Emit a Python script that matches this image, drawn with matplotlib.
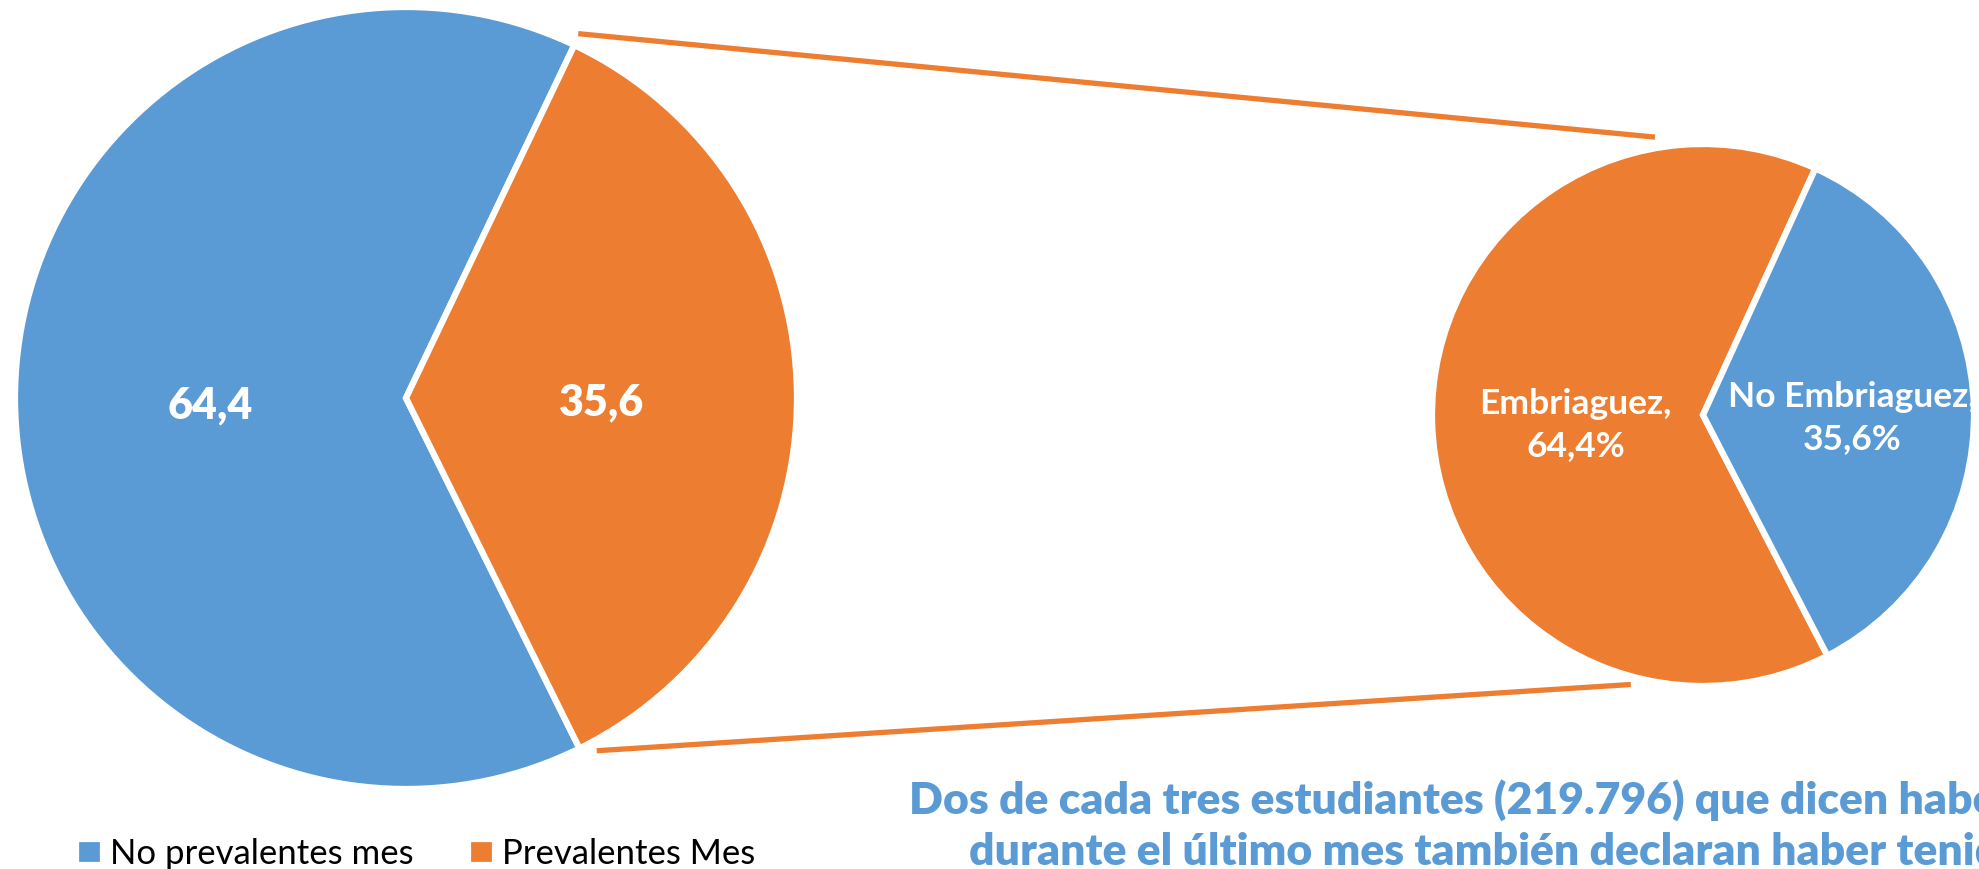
import numpy as np
import matplotlib
matplotlib.use('Agg')
import matplotlib.pyplot as plt

# datos
categorias_mes = ['No prevalentes mes', 'Prevalentes Mes']
valores_mes = [64.4, 35.6]
categorias_emb = ['Embriaguez', 'No Embriaguez']
valores_emb = [64.4, 35.6]
texto_linea1 = 'Dos de cada tres estudiantes (219.796) que dicen haber'
texto_linea2 = 'durante el último mes también declaran haber tenido'

AZUL = '#5B9BD5'
NARANJA = '#ED7D31'

plt.rcParams['font.family'] = ['Lato', 'DejaVu Sans']

W, H = 1979, 869
fig = plt.figure(figsize=(W / 100, H / 100), dpi=100)
ax = fig.add_axes([0, 0, 1, 1])

# pie principal (coordenadas en pixeles, y hacia arriba)
c1, r1 = (406, H - 398), 391
w1, t1 = ax.pie(valores_mes, colors=[AZUL, NARANJA], startangle=64.5,
                center=c1, radius=r1, frame=True,
                labels=[f'{v:.1f}'.replace('.', ',') for v in valores_mes],
                labeldistance=0.5,
                wedgeprops=dict(edgecolor='white', linewidth=4.5),
                textprops=dict(color='white', fontsize=31, fontweight='heavy'))
for t in t1:
    x, y = t.get_position()
    t.set_position((x, y - 6))
    t.set_ha('center')
    t.set_va('center')

# pie secundario
c2, r2 = (1703, H - 415), 271
w2, t2 = ax.pie(valores_emb, colors=[NARANJA, AZUL], startangle=65.5,
                center=c2, radius=r2, frame=True,
                labels=[f'{n},\n{v:.1f}%'.replace('.', ',') for n, v in zip(categorias_emb, valores_emb)],
                labeldistance=0.5,
                wedgeprops=dict(edgecolor='white', linewidth=4.5),
                textprops=dict(color='white', fontsize=25.5, fontweight='bold',
                               linespacing=1.4))
dist = [0.47, 0.55]
for t, w, d in zip(t2, w2, dist):
    a = np.deg2rad((w.theta1 + w.theta2) / 2)
    t.set_position((c2[0] + d * r2 * np.cos(a), c2[1] + d * r2 * np.sin(a) - 7))
    t.set_ha('center')
    t.set_va('center')

# lineas de conexion
def punto(c, r, ang):
    a = np.deg2rad(ang)
    return c[0] + r * np.cos(a), c[1] + r * np.sin(a)

p_a = punto(c1, r1 + 12, 64.7)
p_b = punto(c2, r2 + 11, 99.8)
p_c = punto(c1, r1 + 10, -61.6)
p_d = punto(c2, r2 + 8, -105)
ax.plot([p_a[0], p_b[0]], [p_a[1], p_b[1]], color=NARANJA, lw=3.8, solid_capstyle='butt')
ax.plot([p_c[0], p_d[0]], [p_c[1], p_d[1]], color=NARANJA, lw=3.8, solid_capstyle='butt')

ax.set_xlim(0, W)
ax.set_ylim(0, H)
ax.set_aspect('equal')
ax.axis('off')

# leyenda
ax.legend(w1, categorias_mes, loc='lower left', bbox_to_anchor=(45 / W, -32 / H),
          ncol=2, frameon=False, fontsize=25, handlelength=0.78, handleheight=0.78,
          handletextpad=0.2, columnspacing=1.55, labelcolor='black')

# texto inferior
ax.text(909, H - 800, texto_linea1, color=AZUL, fontsize=32, fontweight='heavy',
        ha='left', va='center')
ax.text(969, H - 852, texto_linea2, color=AZUL, fontsize=32, fontweight='heavy',
        ha='left', va='center')

fig.savefig('out.png', dpi=100)
